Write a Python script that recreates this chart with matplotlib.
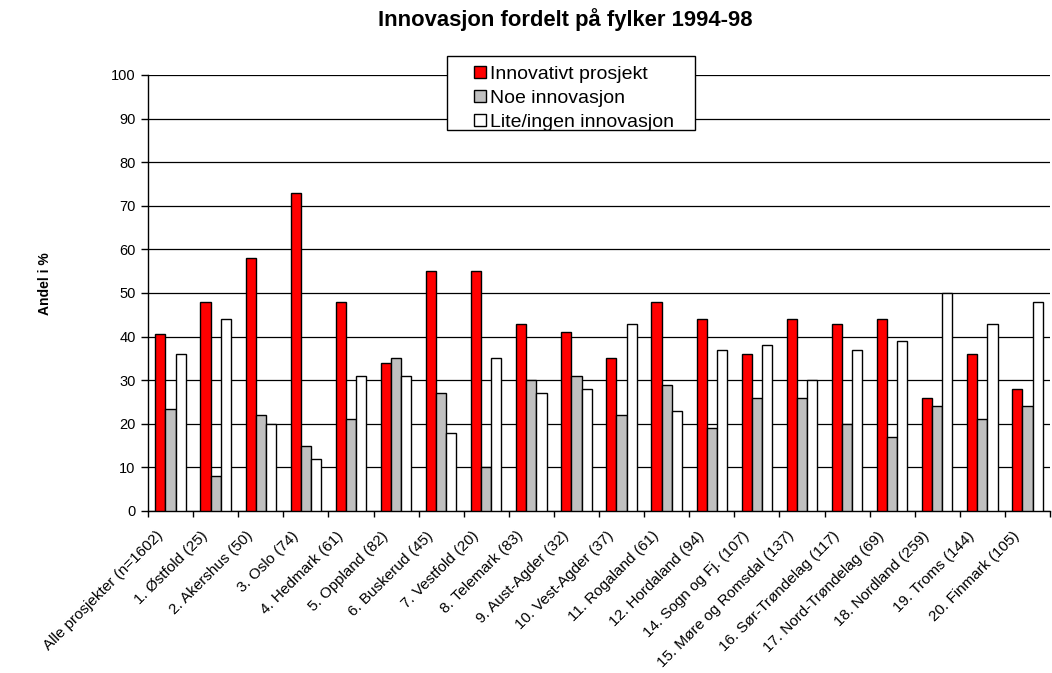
import matplotlib
matplotlib.use("Agg")
import matplotlib.pyplot as plt
from matplotlib.patches import Rectangle
import matplotlib.transforms as mtransforms
import numpy as np

plt.rcParams['font.family'] = ['Liberation Sans', 'DejaVu Sans']

categories = ["Alle prosjekter (n=1602)", "1. Østfold (25)", "2. Akershus (50)", "3. Oslo (74)",
              "4. Hedmark (61)", "5. Oppland (82)", "6. Buskerud (45)", "7. Vestfold (20)",
              "8. Telemark (83)", "9. Aust-Agder (32)", "10. Vest-Agder (37)", "11. Rogaland (61)",
              "12. Hordaland (94)", "14. Sogn og Fj. (107)", "15. Møre og Romsdal (137)",
              "16. Sør-Trøndelag (117)", "17. Nord-Trøndelag (69)", "18. Nordland (259)",
              "19. Troms (144)", "20. Finmark (105)"]
innovativt = [40.5, 48, 58, 73, 48, 34, 55, 55, 43, 41, 35, 48, 44, 36, 44, 43, 44, 26, 36, 28]
noe = [23.5, 8, 22, 15, 21, 35, 27, 10, 30, 31, 22, 29, 19, 26, 26, 20, 17, 24, 21, 24]
lite = [36, 44, 20, 12, 31, 31, 18, 35, 27, 28, 43, 23, 37, 38, 30, 37, 39, 50, 43, 48]
series_names = ["Innovativt prosjekt", "Noe innovasjon", "Lite/ingen innovasjon"]
colors = ["#FF0000", "#C0C0C0", "#FFFFFF"]
yticks = list(range(0, 101, 10))

W, H = 1052, 673
fig = plt.figure(figsize=(W/100, H/100), dpi=100)
ax = fig.add_axes([148/W, 1-511/H, 902/W, 436/H])

x = np.arange(len(categories))
w = 0.225
handles = []
for i, (vals, name, c) in enumerate(zip([innovativt, noe, lite], series_names, colors)):
    b = ax.bar(x + (i-1)*w, vals, width=w, color=c, edgecolor="black", linewidth=1.0,
               label=name, zorder=3)
    handles.append(b)

ax.set_xlim(-0.5, len(categories)-0.5)
ax.set_ylim(0, 100)
ax.set_yticks(yticks)
ax.yaxis.grid(True, color="black", linewidth=0.9, zorder=0)
ax.set_axisbelow(True)
for s in ["top", "right"]:
    ax.spines[s].set_visible(False)
ax.spines["left"].set_linewidth(1.0)
ax.spines["bottom"].set_linewidth(1.0)

ax.set_xticks(np.arange(-0.5, len(categories), 1.0), minor=False)
ax.set_xticklabels([])
ax.set_xticks(x, minor=True)
ax.set_xticklabels(categories, minor=True, rotation=45, ha="right", rotation_mode="anchor",
                   fontsize=11)
ax.tick_params(axis="x", which="minor", length=0, pad=7)
ax.tick_params(axis="x", which="major", length=4, width=1, direction="out")
ax.tick_params(axis="y", length=5, width=1, direction="out", labelsize=10.5, pad=4)

offset = mtransforms.ScaledTranslation(-15/100, -8/100, fig.dpi_scale_trans)
for lbl in ax.get_xticklabels(minor=True):
    lbl.set_transform(lbl.get_transform() + offset)

fig.text(565/W, 1-20/H, "Innovasjon fordelt på fylker 1994-98", ha="center", va="center",
         fontsize=15.8, fontweight="bold")
fig.text(45/W, 1-284/H, "Andel i %", ha="center", va="center", rotation=90,
         fontsize=10, fontweight="bold")

# legend frame
frame = Rectangle((447/W, 1-130/H), (695-447)/W, (130-56)/H, transform=fig.transFigure,
                  facecolor="white", edgecolor="black", linewidth=1.0, zorder=4)
fig.patches.append(frame)
leg = fig.legend(handles=handles, loc="upper left", bbox_to_anchor=(474/W, 1-66/H),
                 frameon=False, fontsize=14, handlelength=0.6, handleheight=0.6,
                 handletextpad=0.2, labelspacing=0.36, borderpad=0, borderaxespad=0)
leg.set_zorder(5)

fig.savefig("out.png", dpi=100)
